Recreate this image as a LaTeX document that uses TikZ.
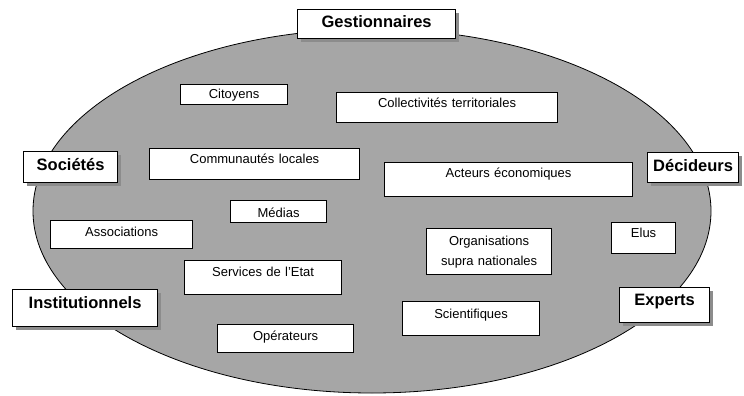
\documentclass[tikz,border=0pt]{standalone}
\usepackage{fontspec}
\setmainfont{Liberation Sans}
\usetikzlibrary{shadows}
\definecolor{ovalgray}{RGB}{166,166,166}

\begin{document}
\begin{tikzpicture}
      [x=1pt, y=-1pt,
      actor/.style={draw, line width=1.2pt, fill=white, anchor=north west,
        inner sep=0pt, align=center, font=\fontsize{13}{20}\selectfont},
      role/.style={actor, font=\fontsize{16.5}{20}\selectfont\bfseries,
        drop shadow={shadow xshift=3pt, shadow yshift=-3pt, fill=black!45, opacity=1}}]
      \useasboundingbox (0,0) rectangle (744,396);
      \draw[fill=ovalgray, line width=0.8pt] (372,211) ellipse [x radius=339, y radius=182];
      % inner actors
      \node[actor, text width=107pt, text height=14pt, text depth=6pt] (cit) at (180,84) {Citoyens};
      \node[actor, text width=221pt, text height=15pt, text depth=15pt] (coll) at (336,92) {Collectivités territoriales};
      \node[actor, text width=210pt, text height=15pt, text depth=16pt] (comm) at (149,148) {Communautés locales};
      \node[actor, text width=248pt, text height=15pt, text depth=19pt] (act) at (384,162) {Acteurs économiques};
      \node[actor, text width=96pt, text height=17pt, text depth=5pt] (med) at (230,200) {Médias};
      \node[actor, text width=142pt, text height=16pt, text depth=12pt] (assoc) at (50,220) {Associations};
      \node[actor, text width=157pt, text height=16pt, text depth=18pt] (serv) at (184,260) {Services de l'Etat};
      \node[actor, text width=136pt, text height=16pt, text depth=12pt] (oper) at (217,324) {Opérateurs};
      \node[actor, text width=125pt, text height=17pt, text depth=29pt] (orga) at (426,228) {Organisations\\supra nationales};
      \node[actor, text width=64pt, text height=15pt, text depth=16pt] (elus) at (611,222) {Elus};
      \node[actor, text width=137pt, text height=17pt, text depth=17pt] (sci) at (402,301) {Scientifiques};
      % roles
      \node[role, text width=158pt, text height=18pt, text depth=11pt] (gest) at (297,9) {Gestionnaires};
      \node[role, text width=94pt, text height=19pt, text depth=12pt] (soc) at (23,151) {Sociétés};
      \node[role, text width=91pt, text height=19pt, text depth=11pt] (dec) at (647,152) {Décideurs};
      \node[role, text width=145pt, text height=19pt, text depth=18pt] (inst) at (12,289) {Institutionnels};
      \node[role, text width=90pt, text height=18pt, text depth=17pt] (exp) at (619,287) {Experts};
    \end{tikzpicture}
\end{document}
